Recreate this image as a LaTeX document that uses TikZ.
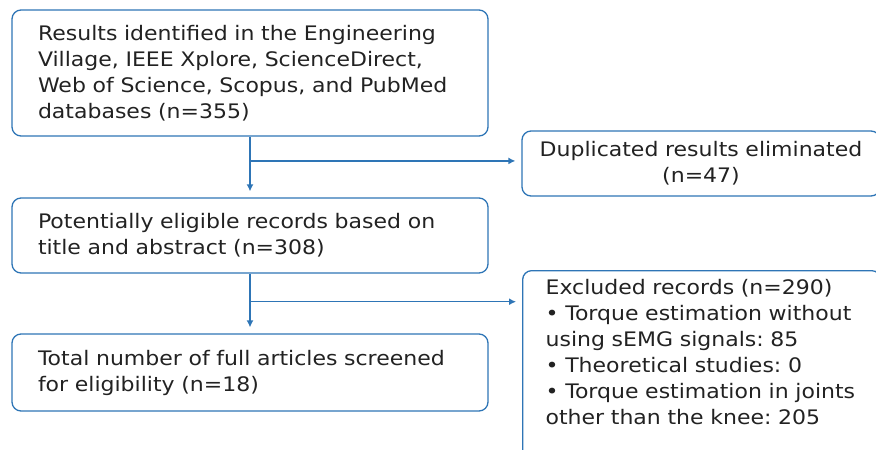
\documentclass[tikz,border=0pt]{standalone}
\usepackage{fontspec}
\setmainfont[FakeStretch=1.1]{DejaVu Sans}
\frenchspacing
\usetikzlibrary{arrows.meta,positioning,calc}
\definecolor{flowblue}{RGB}{46,117,182}
\definecolor{flowtext}{RGB}{34,34,34}
\tikzset{
  stagebox/.style={draw=flowblue, line width=1.3pt, rounded corners=9pt,
    text=flowtext, align=left, inner xsep=26pt, inner ysep=0pt,
    font=\fontsize{20}{26}\selectfont},
  sidebox/.style={stagebox, inner xsep=23pt},
  flowline/.style={draw=flowblue, line width=1.3pt},
  flowarrow/.style={flowline, -{Latex[length=7pt,width=7pt]}, shorten >=6pt},
}
\begin{document}
\begin{tikzpicture}[x=1pt,y=-1pt]
  \clip (0,0) rectangle (876,450);
  % main column
  \node[stagebox, text width=424pt, minimum height=126pt] (found) at (250,73)
    {Results identified in the Engineering\\Village, IEEE Xplore, ScienceDirect,\\Web of Science, Scopus, and PubMed\\databases (n=355)};
  \node[stagebox, text width=424pt, minimum height=75pt] (eligible) at (250,235.5)
    {Potentially eligible records based on\\title and abstract (n=308)};
  \node[stagebox, text width=424pt, minimum height=77pt] (screened) at (250,372.5)
    {Total number of full articles screened\\for eligibility (n=18)};
  % side boxes
  \node[sidebox, align=center, inner xsep=10pt, text width=338pt, minimum height=65pt] (dupes) at (701,163.5)
    {Duplicated results eliminated\\(n=47)};
  \node[sidebox, text width=312pt, inner ysep=9pt, anchor=north west] (excluded) at (522,270)
    {Excluded records (n=290)\\\textbullet{} Torque estimation without\\using sEMG signals: 85\\\textbullet{} Theoretical studies: 0\\\textbullet{} Torque estimation in joints\\other than the knee: 205\\\mbox{}};
  % connectors
  \coordinate (split1) at ($(found.south)!0.4!(eligible.north)$);
  \coordinate (split2) at ($(eligible.south)!0.47!(screened.north)$);
  \draw[flowarrow] (found.south) -- (eligible.north);
  \draw[flowarrow] (split1) -- (split1 -| dupes.west);
  \draw[flowarrow] (eligible.south) -- (screened.north);
  \draw[flowarrow] (split2) -- (split2 -| excluded.west);
\end{tikzpicture}
\end{document}
